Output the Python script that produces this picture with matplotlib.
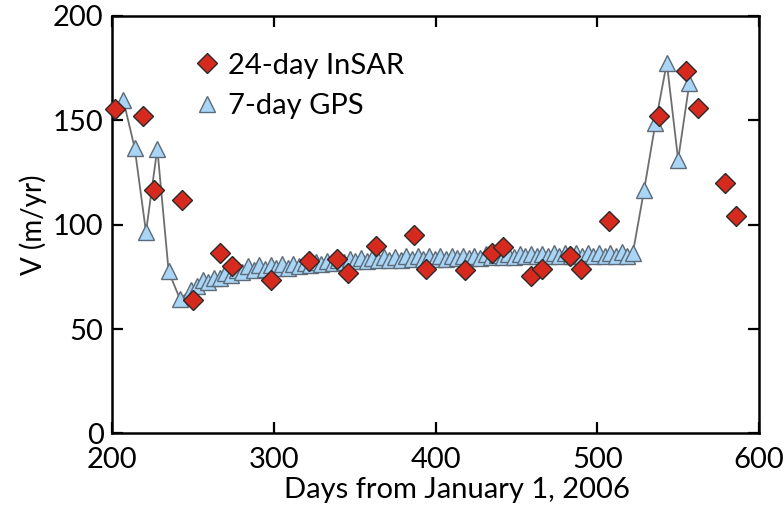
import matplotlib
matplotlib.use("Agg")
import matplotlib.pyplot as plt
from matplotlib.lines import Line2D

# ---- data ----
insar_days = [202, 219, 226, 243, 250, 267, 274, 298, 322, 339, 346, 363, 387, 394,
              418, 435, 442, 459, 466, 483, 490, 507, 538, 555, 562, 579, 586]
insar_v = [155.5, 151.9, 116.5, 111.7, 63.7, 86.4, 80.0, 73.6, 82.4, 83.7, 76.8, 89.6,
           95.2, 78.8, 78.4, 86.4, 89.1, 75.2, 78.8, 85.1, 78.8, 101.6, 152.3, 173.5,
           156.0, 120.0, 104.0]

gps_days = [207, 214, 221, 228, 235, 242, 249, 256, 263, 270, 277, 284, 291, 298, 305,
            312, 319, 326, 333, 340, 347, 354, 361, 368, 375, 382, 389, 396, 403, 410,
            417, 424, 431, 438, 445, 452, 459, 466, 473, 480, 487, 494, 501, 508, 515,
            522, 529, 536, 543, 550, 557]
gps_v = [159.6, 136.8, 96.5, 136.5, 77.6, 64.4, 68.8, 73.6, 74.4, 76.8, 78.4, 80.0, 80.8,
         80.8, 81.0, 81.2, 81.6, 82.0, 82.8, 83.2, 83.6, 84.0, 84.0, 84.4, 84.4, 84.8,
         84.8, 84.8, 85.0, 85.0, 85.2, 85.2, 85.8, 85.6, 86.0, 86.0, 86.0, 86.0, 86.4,
         86.4, 86.4, 86.4, 86.4, 86.6, 87.0, 86.4, 116.8, 148.7, 177.5, 131.2, 168.0]

gps_mid_days = [252.5, 259.5, 266.5, 273.5, 280.5, 287.5, 294.5, 301.5, 308.5, 315.5,
                322.5, 329.5, 336.5, 343.5, 350.5, 357.5, 364.5, 371.5, 378.5, 385.5,
                392.5, 399.5, 406.5, 413.5, 420.5, 427.5, 434.5, 441.5, 448.5, 455.5,
                462.5, 469.5, 476.5, 483.5, 490.5, 497.5, 504.5, 511.5, 518.5]
gps_mid_v = [70.5, 72.5, 74.5, 76.0, 77.5, 78.5, 79.0, 79.5, 79.5, 80.0, 80.5, 81.0,
             81.5, 82.0, 82.5, 82.5, 83.0, 83.0, 83.2, 83.5, 83.5, 83.5, 83.8, 84.0,
             84.0, 84.2, 84.5, 84.5, 84.5, 84.8, 84.8, 85.0, 85.0, 85.0, 85.0, 85.0,
             85.2, 85.2, 85.2]

x_ticks = [200, 300, 400, 500, 600]
y_ticks = [0, 50, 100, 150, 200]
label_insar = "24-day InSAR"
label_gps = "7-day GPS"
xlabel = "Days from January 1, 2006"
ylabel = "V (m/yr)"

# ---- style ----
plt.rcParams['font.family'] = ['Lato', 'DejaVu Sans']
RED = '#d62a1f'
BLUE = '#a9d5f6'
EDGE_T = '#5d6b78'
MS_D = 10
MS_T = 11.5

fig = plt.figure(figsize=(7.84, 5.08), dpi=100)
ax = fig.add_axes([0.1429, 0.1467, 0.8252, 0.8219])

pairs = sorted(list(zip(gps_days, gps_v)) + list(zip(gps_mid_days, gps_mid_v)))
gx = [p[0] for p in pairs]
gy = [p[1] for p in pairs]

ax.plot(gx, gy, color='#6e6e6e', lw=1.3, zorder=2)
ax.plot(gx, gy, ls='none', marker='^', ms=MS_T, mfc=BLUE, mec=EDGE_T, mew=1.0, zorder=3)
ax.plot(insar_days, insar_v, ls='none', marker='D', ms=MS_D, mfc=RED, mec='#2a2a2a',
        mew=1.0, zorder=4, clip_on=False)

ax.set_xlim(200, 600)
ax.set_ylim(0, 200)
ax.set_xticks(x_ticks)
ax.set_yticks(y_ticks)
ax.tick_params(direction='in', length=8, width=1.6, top=True, right=True,
               labelsize=21)
ax.tick_params(axis='x', pad=10)
ax.tick_params(axis='y', pad=6)
for s in ax.spines.values():
    s.set_linewidth(1.8)
ax.set_xlabel(xlabel, fontsize=21)
ax.xaxis.set_label_coords(0.533, -0.105)
ax.set_ylabel(ylabel, fontsize=20, labelpad=4)

handles = [Line2D([], [], ls='none', marker='D', ms=MS_D, mfc=RED, mec='#2a2a2a', mew=1.0),
           Line2D([], [], ls='none', marker='^', ms=MS_T, mfc=BLUE, mec=EDGE_T, mew=1.0)]
ax.legend(handles, [label_insar, label_gps], loc='upper left',
          bbox_to_anchor=(0.11, 0.94), frameon=False, fontsize=21,
          handlelength=0.8, handletextpad=0.35, labelspacing=0.5, borderaxespad=0)

fig.savefig('out.png', dpi=100)
